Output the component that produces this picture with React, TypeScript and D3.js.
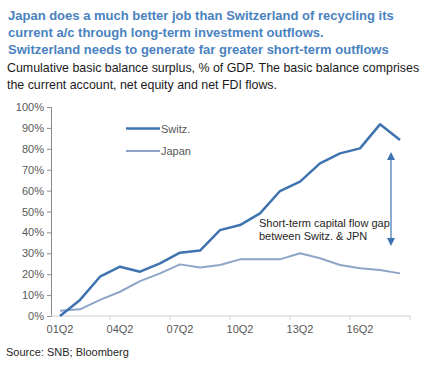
// Cumulative basic balance: Switzerland vs Japan
import React, { useEffect, useRef } from 'react';
import * as d3 from 'd3';

const categories: string[] = [
  '01Q2', '02Q2', '03Q2', '04Q2', '05Q2', '06Q2', '07Q2', '08Q2', '09Q2',
  '10Q2', '11Q2', '12Q2', '13Q2', '14Q2', '15Q2', '16Q2', '17Q2', '18Q2',
];
const switzValues: number[] = [
  0, 7.7, 18.8, 23.6, 21.2, 25.2, 30.3, 31.3, 41.1,
  43.5, 49.1, 59.8, 64.3, 73, 77.8, 80.2, 91.7, 84.2,
];
const japanValues: number[] = [
  2.5, 3.2, 7.7, 11.6, 16.7, 20.4, 24.7, 23.2, 24.4,
  27.1, 27.1, 27.1, 30, 27.6, 24.4, 22.8, 22, 20.4,
];
const yTicks: number[] = [0, 10, 20, 30, 40, 50, 60, 70, 80, 90, 100];
const xLabelEvery = 3;

const titleLines: string[] = [
  'Japan does a much better job than Switzerland of recycling its',
  'current a/c through long-term investment outflows.',
  'Switzerland needs to generate far greater short-term outflows',
];
const subtitleLines: string[] = [
  'Cumulative basic balance surplus, % of GDP. The basic balance comprises',
  'the current account, net equity and net FDI flows.',
];
const annotationLines: string[] = ['Short-term capital flow gap', 'between Switz. & JPN'];
const sourceText = 'Source: SNB; Bloomberg';

const FONT = "'Liberation Sans', Arial, sans-serif";
const SWITZ_COLOR = '#3f73b0';
const JAPAN_COLOR = '#8ea5c7';

const App: React.FC = () => {
  const ref = useRef<SVGSVGElement>(null);

  useEffect(() => {
    if (!ref.current) return;
    const svg = d3.select(ref.current);
    svg.selectAll('*').remove();

    const width = 432;
    const height = 367;
    svg.attr('width', width).attr('height', height);

    svg.append('rect').attr('width', width).attr('height', height).attr('fill', 'white');

    // Title
    titleLines.forEach((t, i) => {
      svg.append('text')
        .attr('x', 8)
        .attr('y', 19.5 + i * 17)
        .attr('fill', '#4a82c0')
        .style('font-family', FONT)
        .style('font-size', '13px')
        .style('font-weight', 'bold')
        .text(t);
    });

    subtitleLines.forEach((t, i) => {
      svg.append('text')
        .attr('x', 7)
        .attr('y', 72 + i * 16.5)
        .attr('fill', '#1a1a1a')
        .style('font-family', FONT)
        .style('font-size', '12.4px')
        .text(t);
    });

    const x = d3.scaleBand<string>()
      .domain(categories)
      .range([50, 410])
      .padding(0);
    const cx = (c: string) => (x(c) ?? 0) + x.bandwidth() / 2;

    const y = d3.scaleLinear()
      .domain([0, 100])
      .range([316, 107]);

    // Y axis
    const yAxis = d3.axisLeft(y)
      .tickValues(yTicks)
      .tickSize(4)
      .tickPadding(3)
      .tickFormat((d) => `${d}%`);
    const yG = svg.append('g')
      .attr('transform', 'translate(51,0)')
      .call(yAxis);
    yG.select('.domain').attr('stroke', '#8a8a8a');
    yG.selectAll('.tick line').attr('stroke', '#8a8a8a');
    yG.selectAll('.tick text')
      .attr('fill', '#595959')
      .style('font-family', FONT)
      .style('font-size', '11px');

    // X axis
    const xAxisG = svg.append('g');
    xAxisG.append('line')
      .attr('x1', 51).attr('x2', 410)
      .attr('y1', y(0)).attr('y2', y(0))
      .attr('stroke', '#d0d0d0');
    const tickCats = categories.filter((_, i) => i % xLabelEvery === 0);
    const tickXs = tickCats.map((c) => x(c) ?? 0).concat([x.range()[1]]);
    tickXs.forEach((tx, i) => {
      if (i === 0) return;
      xAxisG.append('line')
        .attr('x1', tx).attr('x2', tx)
        .attr('y1', y(0)).attr('y2', y(0) + 4)
        .attr('stroke', '#d0d0d0');
    });
    tickCats.forEach((c) => {
      xAxisG.append('text')
        .attr('x', cx(c))
        .attr('y', 333)
        .attr('text-anchor', 'middle')
        .attr('fill', '#595959')
        .style('font-family', FONT)
        .style('font-size', '11px')
        .text(c);
    });

    const line = d3.line<number>()
      .x((_, i) => cx(categories[i]))
      .y((d) => y(d));

    svg.append('path')
      .datum(japanValues)
      .attr('fill', 'none')
      .attr('stroke', JAPAN_COLOR)
      .attr('stroke-width', 2)
      .attr('stroke-linejoin', 'round')
      .attr('d', line);

    svg.append('path')
      .datum(switzValues)
      .attr('fill', 'none')
      .attr('stroke', SWITZ_COLOR)
      .attr('stroke-width', 2.5)
      .attr('stroke-linejoin', 'round')
      .attr('d', line);

    // Legend
    const legend = [
      { name: 'Switz.', color: SWITZ_COLOR, w: 2.5, yPos: 128.5 },
      { name: 'Japan', color: JAPAN_COLOR, w: 1.8, yPos: 151 },
    ];
    legend.forEach((l) => {
      svg.append('line')
        .attr('x1', 126).attr('x2', 160)
        .attr('y1', l.yPos).attr('y2', l.yPos)
        .attr('stroke', l.color)
        .attr('stroke-width', l.w);
      svg.append('text')
        .attr('x', 161)
        .attr('y', l.yPos + 4)
        .attr('fill', '#595959')
        .style('font-family', FONT)
        .style('font-size', '11px')
        .text(l.name);
    });

    // Gap arrow
    const ax = cx(categories[16]) + 11;
    const yTop = y(78.5);
    const yBot = y(33.5);
    svg.append('line')
      .attr('x1', ax).attr('x2', ax)
      .attr('y1', yTop + 6).attr('y2', yBot - 6)
      .attr('stroke', SWITZ_COLOR)
      .attr('stroke-width', 1.2);
    svg.append('path')
      .attr('d', `M${ax},${yTop} L${ax - 4},${yTop + 8} L${ax + 4},${yTop + 8} Z`)
      .attr('fill', SWITZ_COLOR);
    svg.append('path')
      .attr('d', `M${ax},${yBot} L${ax - 4},${yBot - 8} L${ax + 4},${yBot - 8} Z`)
      .attr('fill', SWITZ_COLOR);

    annotationLines.forEach((t, i) => {
      svg.append('text')
        .attr('x', 259)
        .attr('y', 227 + i * 13)
        .attr('fill', '#262626')
        .style('font-family', FONT)
        .style('font-size', '11px')
        .text(t);
    });

    // Source
    svg.append('text')
      .attr('x', 6)
      .attr('y', 356)
      .attr('fill', '#262626')
      .style('font-family', FONT)
      .style('font-size', '11px')
      .text(sourceText);
  }, []);

  return (
    <svg ref={ref} style={{ position: 'absolute', left: 0, top: 0, display: 'block' }}></svg>
  );
};

export default App;
